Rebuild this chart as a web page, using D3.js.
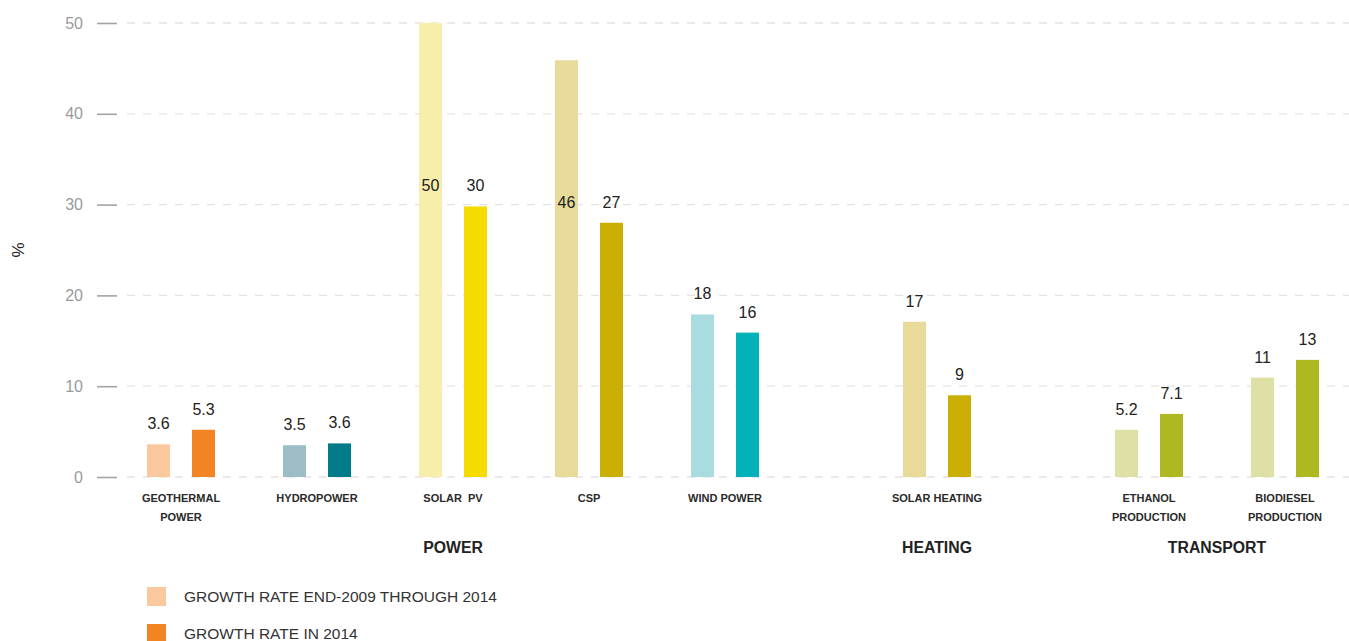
<!DOCTYPE html>
<html>
<head>
<meta charset="utf-8">
<script src="https://cdn.jsdelivr.net/npm/d3@7"></script>
<style>
  html, body { margin: 0; padding: 0; background: #fff; }
  svg { display: block; font-family: "Liberation Sans", Arial, sans-serif; }
</style>
</head>
<body>
<svg id="chart" width="1349" height="641"></svg>
<script>
// ---- data ----
const categories = [["GEOTHERMAL", "POWER"], ["HYDROPOWER"], ["SOLAR  PV"], ["CSP"], ["WIND POWER"], ["SOLAR HEATING"], ["ETHANOL", "PRODUCTION"], ["BIODIESEL", "PRODUCTION"]];
const categoryGroups = ["POWER", "POWER", "POWER", "POWER", "POWER", "HEATING", "TRANSPORT", "TRANSPORT"];
const groups = ["POWER", "HEATING", "TRANSPORT"];
const seriesNames = ["GROWTH RATE END-2009 THROUGH 2014", "GROWTH RATE IN 2014"];
const valuesPeriod = [3.6, 3.5, 50, 45.9, 17.9, 17.1, 5.2, 10.95];
const values2014 = [5.2, 3.7, 29.8, 28, 15.9, 9.0, 6.95, 12.9];
const labelsPeriod = ["3.6", "3.5", "50", "46", "18", "17", "5.2", "11"];
const labels2014 = ["5.3", "3.6", "30", "27", "16", "9", "7.1", "13"];
const colorsPeriod = ["#f9c89c", "#9dbdc6", "#f8eeab", "#e8db9a", "#a9dce0", "#e8db9a", "#dee0a6", "#dee0a6"];
const colors2014 = ["#f38424", "#037b8a", "#f4dc00", "#ccaf04", "#02b2b8", "#ccaf04", "#aeb820", "#aeb820"];
const yTicks = [0, 10, 20, 30, 40, 50];

// ---- layout ----
const svg = d3.select("#chart");
const keys = categories.map((c, i) => "c" + i);
const y = d3.scaleLinear().domain([0, 50]).range([477, 23]);
const xCat = d3.scaleBand().domain(keys).range([113, 113 + 8 * 136]).padding(0);
const groupGap = 76;
const cx = i => xCat(keys[i]) + xCat.bandwidth() / 2 + groups.indexOf(categoryGroups[i]) * groupGap;
const xSub = d3.scaleBand().domain(["p", "n"]).range([-34, 34]).paddingInner(22 / 45).paddingOuter(0);

// gridlines
svg.append("g").selectAll("line").data(yTicks).join("line")
  .attr("x1", 127).attr("x2", 1349)
  .attr("y1", d => y(d)).attr("y2", d => y(d))
  .attr("stroke", "#e3e3e3").attr("stroke-width", 1.3)
  .attr("stroke-dasharray", "8,8");

// y axis
const yAxis = d3.axisLeft(y).tickValues(yTicks).tickSize(20).tickPadding(14);
const gy = svg.append("g").attr("transform", "translate(117,0)").call(yAxis);
gy.select(".domain").remove();
gy.selectAll(".tick line").attr("stroke", "#a3a3a3").attr("stroke-width", 1.6);
gy.selectAll(".tick text").attr("fill", "#9a9a9a").attr("font-size", 16)
  .attr("font-family", "Liberation Sans, Arial, sans-serif");

svg.append("text").attr("transform", "translate(24,250) rotate(-90)")
  .attr("text-anchor", "middle").attr("font-size", 17).attr("fill", "#222").text("%");

// bars
const rows = categories.map((c, i) => ({ i, p: valuesPeriod[i], n: values2014[i] }));
const barG = svg.append("g");
rows.forEach(r => {
  const c = cx(r.i);
  [["p", valuesPeriod, colorsPeriod, labelsPeriod], ["n", values2014, colors2014, labels2014]].forEach(([k, vals, cols, labs]) => {
    const v = vals[r.i];
    barG.append("rect")
      .attr("x", c + xSub(k)).attr("width", xSub.bandwidth())
      .attr("y", y(v)).attr("height", y(0) - y(v))
      .attr("fill", cols[r.i]);
    const ly = (k === "p" && v > 40) ? y(values2014[r.i]) : y(v);
    barG.append("text")
      .attr("x", c + xSub(k) + xSub.bandwidth() / 2).attr("y", ly - 15)
      .attr("text-anchor", "middle").attr("font-size", 16).attr("fill", "#222")
      .text(labs[r.i]);
  });
  // category label
  const t = barG.append("text").attr("text-anchor", "middle")
    .attr("font-size", 11).attr("font-weight", "bold").attr("fill", "#2a2a2a");
  categories[r.i].forEach((line, j) => {
    t.append("tspan").attr("x", c).attr("y", 502 + j * 19).attr("xml:space", "preserve").text(line);
  });
});

// group labels
groups.forEach(g => {
  const idx = d3.range(categories.length).filter(i => categoryGroups[i] === g);
  const gx = d3.mean(d3.extent(idx.map(cx)));
  svg.append("text").attr("x", gx).attr("y", 553).attr("text-anchor", "middle")
    .attr("font-size", 15.8).attr("font-weight", "bold").attr("fill", "#222").text(g);
});

// legend
const legendColors = [colorsPeriod[0], colors2014[0]];
const lg = svg.append("g");
seriesNames.forEach((s, i) => {
  lg.append("rect").attr("x", 147).attr("y", 587 + i * 37).attr("width", 19).attr("height", 19).attr("fill", legendColors[i]);
  lg.append("text").attr("x", 184).attr("y", 602 + i * 37).attr("font-size", 15.5).attr("fill", "#333").text(s);
});
</script>
</body>
</html>
